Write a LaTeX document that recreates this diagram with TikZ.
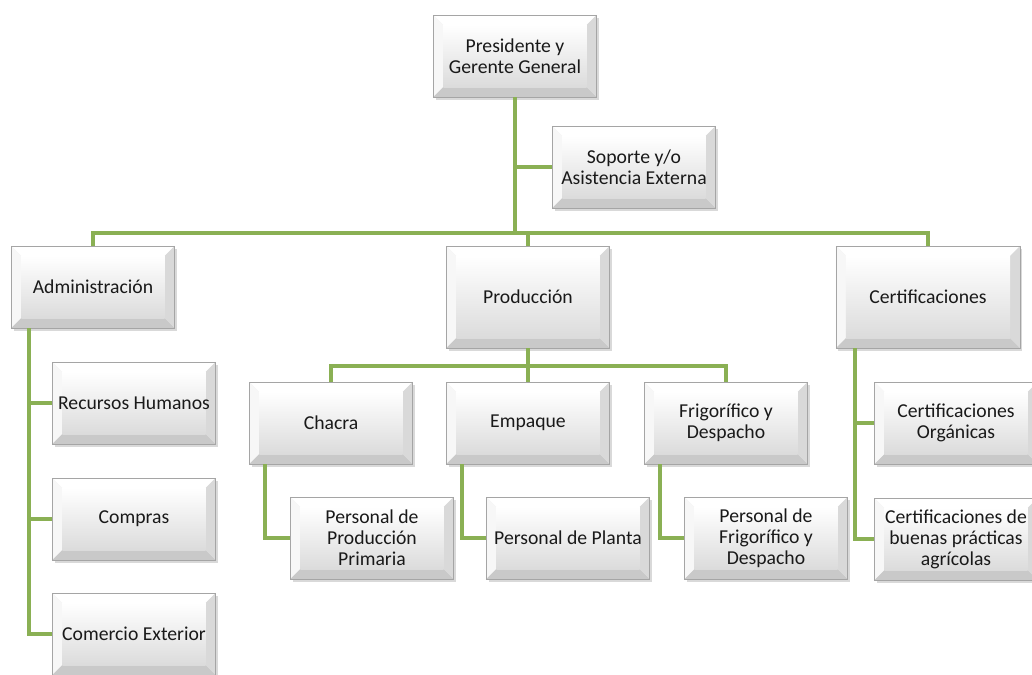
\documentclass[tikz,border=0pt]{standalone}
\usepackage{fontspec}
\setmainfont{Carlito}
\usepackage{tikz}
\usetikzlibrary{shadows}

\definecolor{linkgreen}{RGB}{138,176,84}
\definecolor{boxedge}{RGB}{165,165,165}

\tikzset{
  orgbox/.style={draw=boxedge, line width=0.5pt, minimum width=4.075cm,
    minimum height=2.05cm, inner sep=1pt, align=center,
    font=\fontsize{14}{15}\selectfont, text=black!90,
    drop shadow={opacity=0.3, shadow xshift=1.5pt, shadow yshift=-2pt},
    fill=gray!15,
    path picture={
      \fill[white] (path picture bounding box.north west) -- (path picture bounding box.north east)
        -- ([shift={(-0.25cm,-0.25cm)}]path picture bounding box.north east)
        -- ([shift={(0.25cm,-0.25cm)}]path picture bounding box.north west) -- cycle;
      \fill[gray!6] (path picture bounding box.north west) -- (path picture bounding box.south west)
        -- ([shift={(0.25cm,0.25cm)}]path picture bounding box.south west)
        -- ([shift={(0.25cm,-0.25cm)}]path picture bounding box.north west) -- cycle;
      \fill[gray!42] (path picture bounding box.south west) -- (path picture bounding box.south east)
        -- ([shift={(-0.25cm,0.25cm)}]path picture bounding box.south east)
        -- ([shift={(0.25cm,0.25cm)}]path picture bounding box.south west) -- cycle;
      \fill[gray!30] (path picture bounding box.north east) -- (path picture bounding box.south east)
        -- ([shift={(-0.25cm,0.25cm)}]path picture bounding box.south east)
        -- ([shift={(-0.25cm,-0.25cm)}]path picture bounding box.north east) -- cycle;
      \shade[top color=white, bottom color=gray!28]
        ([shift={(0.25cm,-0.25cm)}]path picture bounding box.north west)
        rectangle ([shift={(-0.25cm,0.25cm)}]path picture bounding box.south east);
    }},
  tallbox/.style={orgbox, minimum height=2.55cm},
  link/.style={draw=linkgreen, line width=2.9pt}
}

\begin{document}
\begin{tikzpicture}[x=0.025cm, y=-0.025cm]
  \useasboundingbox (0,0) rectangle (1032,675);

  % top
  \node[orgbox] (pres) at (515,56) {Presidente y\\Gerente General};
  \node[orgbox] (sop) at (634,167) {Soporte y/o\\Asistencia Externa};
  \coordinate (bus) at (515,233);

  % areas
  \node[orgbox] (adm) at (93,287) {Administración};
  \node[tallbox] (prod) at (528,297) {Producción};
  \node[tallbox, minimum width=4.6cm] (cert) at (928,297) {Certificaciones};

  % administracion
  \node[orgbox] (rrhh) at (134,403) {Recursos Humanos};
  \node[orgbox] (comp) at (134,519) {Compras};
  \node[orgbox] (cext) at (134,634) {Comercio Exterior};

  % produccion
  \node[orgbox] (chac) at (331,423) {Chacra};
  \node[orgbox] (emp) at (528,423) {Empaque};
  \node[orgbox] (frig) at (726,423) {Frigorífico y\\Despacho};
  \node[orgbox] (pchac) at (372,538) {Personal de\\Producción\\Primaria};
  \node[orgbox] (pemp) at (568,538) {Personal de Planta};
  \node[orgbox] (pfrig) at (766,538) {Personal de\\Frigorífico y\\Despacho};
  \coordinate (pbus) at (528,366);

  % certificaciones
  \node[orgbox] (corg) at (956,423) {Certificaciones\\Orgánicas};
  \node[orgbox] (cbpa) at (956,539) {Certificaciones de\\buenas prácticas\\agrícolas};

  % connectors
  \draw[link] (pres.south) -- (bus);
  \draw[link] (pres.south) |- (sop.west);
  \draw[link] (bus) -| (adm.north);
  \draw[link] (bus) -| (prod.north);
  \draw[link] (bus) -| (cert.north);
  \draw[link] ([xshift=0.45cm]adm.south west) |- (rrhh.west);
  \draw[link] ([xshift=0.45cm]adm.south west) |- (comp.west);
  \draw[link] ([xshift=0.45cm]adm.south west) |- (cext.west);
  \draw[link] (prod.south) -- (pbus);
  \draw[link] (pbus) -| (chac.north);
  \draw[link] (pbus) -- (emp.north);
  \draw[link] (pbus) -| (frig.north);
  \draw[link] ([xshift=0.4cm]chac.south west) |- (pchac.west);
  \draw[link] ([xshift=0.4cm]emp.south west) |- (pemp.west);
  \draw[link] ([xshift=0.4cm]frig.south west) |- (pfrig.west);
  \draw[link] ([xshift=0.475cm]cert.south west) |- (corg.west);
  \draw[link] ([xshift=0.475cm]cert.south west) |- (cbpa.west);
\end{tikzpicture}
\end{document}
